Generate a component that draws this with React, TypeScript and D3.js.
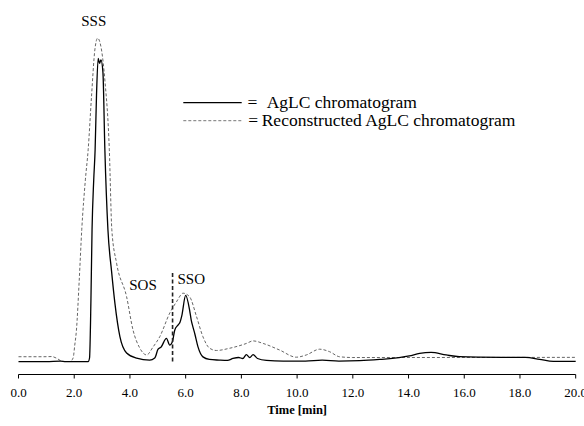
import React from "react";
import * as d3 from "d3";

const solidT = [0.0, 1.0, 1.5, 1.7, 2.5, 2.55, 2.6, 2.64, 2.7, 2.75, 2.8, 2.86, 2.91, 2.96, 3.03, 3.1, 3.21, 3.34, 3.46, 3.64, 3.88, 4.24, 4.71, 4.89, 5.01, 5.12, 5.31, 5.43, 5.52, 5.61, 5.73, 5.8, 5.86, 6.0, 6.14, 6.2, 6.26, 6.33, 6.44, 6.62, 6.85, 7.2, 7.5, 7.7, 7.9, 8.05, 8.18, 8.3, 8.42, 8.58, 8.9, 9.5, 10.3, 10.9, 11.5, 12.25, 12.96, 14.03, 14.4, 14.81, 15.35, 15.82, 16.5, 18.2, 18.7, 19.2, 20.0];
const solidV = [0.1, 0.1, 0.25, 0.1, 0.1, 1.25, 19.4, 41.3, 56.9, 66.3, 83.4, 94.9, 93.3, 94.4, 90.6, 66.3, 41.3, 28.4, 18.4, 7.9, 2.8, 1.2, 0.6, 1.25, 4.0, 4.7, 7.4, 5.3, 6.25, 10, 11.6, 12.5, 14.4, 20.8, 16.3, 13.1, 11, 8.75, 4.8, 1.6, 0.8, 0.6, 0.5, 1.1, 1.4, 1.1, 2.3, 1.4, 2.3, 1.1, 0.5, 0.3, 0.3, 0.6, 0.3, 0.4, 0.8, 1.9, 2.7, 3.0, 2.2, 1.65, 1.5, 1.45, 0.85, 0.2, 0.2];

const dashT = [0.0, 0.9, 1.2, 1.35, 1.6, 1.85, 1.96, 2.02, 2.08, 2.18, 2.27, 2.4, 2.5, 2.62, 2.74, 2.84, 2.98, 3.1, 3.26, 3.35, 3.52, 3.88, 4.11, 4.35, 4.6, 4.83, 5.07, 5.43, 5.67, 5.91, 6.14, 6.39, 6.62, 6.86, 7.1, 7.58, 8.18, 8.42, 8.78, 9.37, 9.97, 10.33, 10.81, 11.17, 11.52, 12.0, 20.0];
const dashV = [1.65, 1.65, 1.7, 1.25, 0.15, 0.15, 1.25, 5.3, 10, 25.6, 41.3, 56.9, 66.3, 82.9, 97.5, 101.2, 97.5, 88.1, 66.3, 41.3, 30.9, 20.4, 10, 4.4, 2.2, 4.7, 7.9, 15.3, 18.8, 21.5, 20.4, 14.2, 7.9, 4.3, 3.6, 4.3, 5.8, 6.6, 5.8, 3.75, 1.5, 2.2, 4.0, 3.2, 1.65, 1.4, 1.45];

const xTicks = [0, 2, 4, 6, 8, 10, 12, 14, 16, 18, 20];
const peakLabels = ["SSS", "SOS", "SSO"];
const peakLabelT = [2.7, 4.47, 6.2];
const peakLabelV = [105, 22.5, 24.5];
const markerT = 5.53;
const legendLabels = ["AgLC chromatogram", "Reconstructed AgLC chromatogram"];
const axisTitle = "Time [min]";

export default function App() {
  const W = 584, H = 426;
  const x = d3.scaleLinear().domain([0, 20]).range([18.5, 575.7]);
  const y = d3.scaleLinear().domain([0, 100]).range([362, 42]);
  const solid = solidT.map((t, i) => [t, solidV[i]] as [number, number]);
  const dash = dashT.map((t, i) => [t, dashV[i]] as [number, number]);
  const line = d3.line<[number, number]>().x(d => x(d[0])).y(d => y(d[1])).curve(d3.curveMonotoneX);
  const axisY = 374.5;
  const font = "'Liberation Serif', 'Times New Roman', serif";
  return (
    <svg width={W} height={H} style={{ position: "absolute", left: 0, top: 0, background: "#fff" }} fontFamily={font}>
      <path d={line(dash) || ""} fill="none" stroke="#666" strokeWidth={1} strokeDasharray="3,2" />
      <path d={line(solid) || ""} fill="none" stroke="#000" strokeWidth={1.3} />
      <line x1={x(markerT)} x2={x(markerT)} y1={273} y2={362} stroke="#222" strokeWidth={1.6} strokeDasharray="4,2.5" />
      {peakLabels.map((l, i) => (
        <text key={l} x={x(peakLabelT[i])} y={y(peakLabelV[i])} textAnchor="middle" fontSize={15}>{l}</text>
      ))}
      <line x1={x(0)} x2={x(20)} y1={axisY} y2={axisY} stroke="#000" strokeWidth={1} />
      {xTicks.map(t => (
        <g key={t}>
          <line x1={x(t)} x2={x(t)} y1={axisY} y2={axisY + 4} stroke="#000" strokeWidth={1} />
          <text x={x(t)} y={397} textAnchor="middle" fontSize={13}>{d3.format(".1f")(t)}</text>
        </g>
      ))}
      <text x={(x(0) + x(20)) / 2} y={414} textAnchor="middle" fontSize={12.5} fontWeight="bold">{axisTitle}</text>
      <line x1={183.3} x2={241.7} y1={102.7} y2={102.7} stroke="#000" strokeWidth={1.3} />
      <text x={247.5} y={108} fontSize={17.5}>=</text>
      <text x={266.7} y={108} fontSize={17.5}>{legendLabels[0]}</text>
      <line x1={183.3} x2={241.7} y1={120.7} y2={120.7} stroke="#777" strokeWidth={1} strokeDasharray="3,2" />
      <text x={248.3} y={126} fontSize={17.5}>=</text>
      <text x={261.7} y={126} fontSize={17.5}>{legendLabels[1]}</text>
    </svg>
  );
}
